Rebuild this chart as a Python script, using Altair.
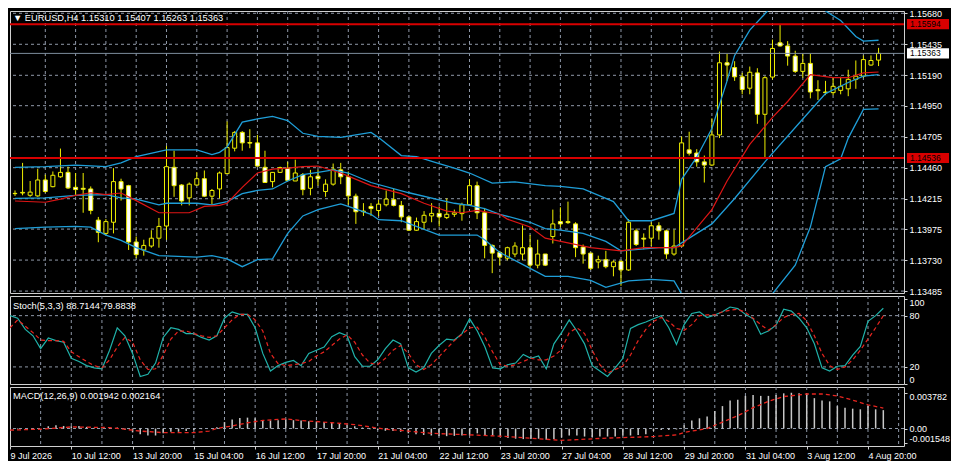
import altair as alt
import pandas as pd

# ---------------- data (EURUSD H4) ----------------
# bar 0 = 9 Jul 2026 04:00, one bar every 4 hours, bar 114 = 5 Aug 2026 04:00
opens = [1.14255, 1.14260, 1.14242, 1.14237, 1.14363, 1.14310, 1.14388, 1.14423, 1.14305, 1.14297,
         1.14292, 1.14046, 1.13941, 1.14029, 1.14350, 1.14318, 1.13873, 1.13810, 1.13841, 1.13903,
         1.13999, 1.14463, 1.14323, 1.14222, 1.14323, 1.14373, 1.14235, 1.14292, 1.14413, 1.14614,
         1.14739, 1.14659, 1.14656, 1.14463, 1.14350, 1.14423, 1.14456, 1.14355, 1.14405, 1.14297,
         1.14393, 1.14272, 1.14330, 1.14443, 1.14388, 1.14235, 1.14117, 1.14154, 1.14122, 1.14167,
         1.14207, 1.14162, 1.14071, 1.13966, 1.14029, 1.14079, 1.14099, 1.14066, 1.14092, 1.14097,
         1.14167, 1.14318, 1.14104, 1.13846, 1.13790, 1.13745, 1.13778, 1.13778, 1.13828, 1.13690,
         1.13778, 1.13916, 1.14034, 1.14034, 1.14016, 1.13833, 1.13785, 1.13715, 1.13733, 1.13678,
         1.13720, 1.13652, 1.13961, 1.13903, 1.13903, 1.14001, 1.13961, 1.13778, 1.13841, 1.14601,
         1.14576, 1.14506, 1.14481, 1.14719, 1.15289, 1.15251, 1.15178, 1.15088, 1.15209, 1.14882,
         1.15176, 1.15447, 1.15422, 1.15342, 1.15221, 1.15284, 1.15076, 1.15058, 1.15053, 1.15071,
         1.15083, 1.15158, 1.15183, 1.15271, 1.15310]
highs = [1.14280, 1.14498, 1.14355, 1.14451, 1.14405, 1.14430, 1.14611, 1.14468, 1.14418, 1.14418,
         1.14312, 1.14071, 1.14054, 1.14456, 1.14373, 1.14325, 1.13916, 1.13891, 1.13966, 1.14063,
         1.14631, 1.14594, 1.14330, 1.14343, 1.14426, 1.14438, 1.14292, 1.14430, 1.14825, 1.14749,
         1.14749, 1.14764, 1.14719, 1.14594, 1.14426, 1.14468, 1.14506, 1.14523, 1.14418, 1.14443,
         1.14443, 1.14368, 1.14493, 1.14498, 1.14430, 1.14255, 1.14180, 1.14180, 1.14205, 1.14280,
         1.14292, 1.14197, 1.14079, 1.14066, 1.14117, 1.14180, 1.14154, 1.14217, 1.14129, 1.14183,
         1.14368, 1.14350, 1.14142, 1.13853, 1.13803, 1.13836, 1.13871, 1.14004, 1.13928, 1.13891,
         1.13778, 1.14129, 1.14147, 1.14192, 1.14029, 1.13853, 1.13790, 1.13765, 1.13803, 1.13728,
         1.13728, 1.14054, 1.13979, 1.13941, 1.14029, 1.14029, 1.13971, 1.13971, 1.14707, 1.14744,
         1.14606, 1.14556, 1.14850, 1.15377, 1.15359, 1.15301, 1.15209, 1.15259, 1.15246, 1.15183,
         1.15472, 1.15593, 1.15460, 1.15384, 1.15359, 1.15359, 1.15151, 1.15146, 1.15171, 1.15178,
         1.15234, 1.15307, 1.15347, 1.15347, 1.15407]
lows = [1.14237, 1.14242, 1.14230, 1.14230, 1.14262, 1.14305, 1.14380, 1.14292, 1.14235, 1.14104,
        1.14092, 1.13871, 1.13928, 1.13941, 1.14200, 1.13810, 1.13745, 1.13765, 1.13828, 1.13828,
        1.13891, 1.14230, 1.14162, 1.14162, 1.14318, 1.14230, 1.14167, 1.14217, 1.14410, 1.14589,
        1.14594, 1.14614, 1.14468, 1.14340, 1.14305, 1.14418, 1.14355, 1.14355, 1.14242, 1.14242,
        1.14318, 1.14230, 1.14318, 1.14330, 1.14167, 1.14016, 1.14079, 1.14079, 1.14079, 1.14154,
        1.14154, 1.14029, 1.13961, 1.13961, 1.13971, 1.14029, 1.13996, 1.14054, 1.14071, 1.14041,
        1.14162, 1.14054, 1.13745, 1.13627, 1.13690, 1.13728, 1.13753, 1.13728, 1.13665, 1.13665,
        1.13683, 1.13861, 1.13991, 1.14016, 1.13753, 1.13702, 1.13652, 1.13665, 1.13665, 1.13602,
        1.13527, 1.13645, 1.13841, 1.13816, 1.13841, 1.13891, 1.13740, 1.13765, 1.13836, 1.14556,
        1.14468, 1.14343, 1.14474, 1.14694, 1.15146, 1.15146, 1.15040, 1.15040, 1.14807, 1.14543,
        1.15158, 1.15417, 1.15266, 1.15209, 1.15171, 1.15008, 1.14995, 1.15033, 1.15033, 1.15040,
        1.15025, 1.15083, 1.15171, 1.15266, 1.15263]
closes = [1.14257, 1.14265, 1.14267, 1.14363, 1.14272, 1.14400, 1.14423, 1.14300, 1.14287, 1.14290,
          1.14122, 1.13949, 1.14034, 1.14350, 1.14292, 1.13873, 1.13773, 1.13846, 1.13903, 1.13996,
          1.14468, 1.14318, 1.14197, 1.14330, 1.14373, 1.14235, 1.14280, 1.14418, 1.14619, 1.14739,
          1.14656, 1.14654, 1.14473, 1.14343, 1.14423, 1.14461, 1.14360, 1.14418, 1.14287, 1.14388,
          1.14373, 1.14330, 1.14448, 1.14388, 1.14237, 1.14112, 1.14112, 1.14137, 1.14172, 1.14212,
          1.14162, 1.14071, 1.13966, 1.14034, 1.14084, 1.14099, 1.14071, 1.14092, 1.14104, 1.14167,
          1.14318, 1.14104, 1.13846, 1.13785, 1.13753, 1.13828, 1.13841, 1.13828, 1.13690, 1.13778,
          1.13690, 1.14016, 1.14016, 1.14026, 1.13828, 1.13778, 1.13665, 1.13733, 1.13678, 1.13715,
          1.13652, 1.14029, 1.13853, 1.13896, 1.14001, 1.13961, 1.13778, 1.13841, 1.14656, 1.14574,
          1.14506, 1.14481, 1.14719, 1.15289, 1.15271, 1.15178, 1.15078, 1.15214, 1.14882, 1.15171,
          1.15402, 1.15422, 1.15342, 1.15221, 1.15284, 1.15058, 1.15068, 1.15053, 1.15103, 1.15103,
          1.15158, 1.15183, 1.15314, 1.15307, 1.15363]

# Bollinger bands and red moving average (bar index, value)
bb_up_idx = [0, 4, 8, 12, 14, 16, 20, 24, 26, 27, 28, 30, 32, 34, 36, 38, 40, 43, 45, 47, 48, 51, 53, 56, 58,
             60, 63, 66, 70, 72, 75, 78, 79, 81, 84, 87, 88, 90, 92, 94, 95, 97, 100, 102, 104, 106, 107,
             109, 111, 112, 114]
bb_up_val = [1.14463, 1.14468, 1.14481, 1.14468, 1.14498, 1.14548, 1.14601, 1.14601, 1.14563, 1.14581,
             1.14624, 1.14820, 1.14845, 1.14865, 1.14832, 1.14732, 1.14707, 1.14699, 1.14719, 1.14739,
             1.14699, 1.14556, 1.14548, 1.14493, 1.14456, 1.14418, 1.14338, 1.14348, 1.14318, 1.14313,
             1.14292, 1.14217, 1.14192, 1.14041, 1.14041, 1.14099, 1.14368, 1.14543, 1.14769, 1.15146,
             1.15347, 1.15547, 1.15740, 1.15820, 1.15830, 1.15770, 1.15698, 1.15623, 1.15497, 1.15460,
             1.15467]
bb_mid_idx = [0, 4, 8, 12, 14, 16, 19, 20, 24, 26, 28, 30, 32, 34, 36, 38, 40, 42, 44, 47, 52, 56, 58, 60,
              62, 64, 68, 70, 72, 75, 78, 80, 85, 87, 88, 92, 95, 99, 104, 107, 110, 112, 114]
bb_mid_val = [1.14217, 1.14222, 1.14242, 1.14247, 1.14222, 1.14212, 1.14167, 1.14179, 1.14179, 1.14167,
              1.14192, 1.14255, 1.14280, 1.14292, 1.14355, 1.14405, 1.14423, 1.14443, 1.14418, 1.14343,
              1.14262, 1.14205, 1.14179, 1.14162, 1.14137, 1.14092, 1.14029, 1.13979, 1.13966, 1.13941,
              1.13878, 1.13803, 1.13828, 1.13828, 1.13866, 1.14016, 1.14217, 1.14506, 1.14845, 1.15045,
              1.15133, 1.15183, 1.15196]
bb_low_idx = [0, 4, 8, 10, 12, 14, 16, 19, 24, 26, 28, 30, 32, 34, 36, 38, 40, 43, 44, 47, 48, 51, 56, 59,
              61, 62, 64, 68, 70, 73, 76, 78, 81, 84, 87, 88, 91, 95, 100, 103, 105, 107, 109, 110, 112, 114]
bb_low_val = [1.13979, 1.13991, 1.13996, 1.13991, 1.13928, 1.13886, 1.13828, 1.13765, 1.13753, 1.13765,
              1.13740, 1.13678, 1.13733, 1.13740, 1.13941, 1.14079, 1.14129, 1.14174, 1.14154, 1.14092,
              1.14049, 1.14041, 1.13928, 1.13928, 1.13928, 1.13891, 1.13790, 1.13665, 1.13602, 1.13602,
              1.13570, 1.13514, 1.13565, 1.13577, 1.13565, 1.13464, 1.13280, 1.13250, 1.13464, 1.13690,
              1.13991, 1.14468, 1.14531, 1.14694, 1.14920, 1.14925]
ma_idx = [0, 4, 6, 8, 10, 12, 14, 16, 19, 23, 25, 27, 28, 30, 32, 34, 36, 38, 40, 43, 44, 47, 51, 54, 57,
          59, 61, 64, 65, 68, 70, 73, 76, 80, 83, 87, 88, 92, 94, 97, 100, 102, 105, 108, 110, 112, 114]
ma_val = [1.14197, 1.14187, 1.14212, 1.14242, 1.14262, 1.14247, 1.14260, 1.14200, 1.14104, 1.14104,
          1.14154, 1.14162, 1.14179, 1.14305, 1.14418, 1.14448, 1.14456, 1.14468, 1.14473, 1.14418,
          1.14393, 1.14318, 1.14255, 1.14179, 1.14117, 1.14104, 1.14122, 1.14092, 1.14054, 1.13991,
          1.13903, 1.13866, 1.13828, 1.13803, 1.13828, 1.13828, 1.13841, 1.14129, 1.14355, 1.14644,
          1.14857, 1.14983, 1.15196, 1.15171, 1.15171, 1.15209, 1.15216]

# Stochastic (5,3,3)
stoch_k = [80.0, 77.0, 63.9, 56.4, 41.4, 53.8, 50.8, 48.9, 30.1, 26.4, 21.5, 18.9, 17.8, 39.5, 65.8, 56.4,
           35.8, 8.8, 11.4, 24.5, 54.5, 65.8, 63.9, 59.0, 59.0, 54.5, 51.5, 56.4, 77.0, 84.5, 81.5, 81.5,
           65.8, 35.8, 15.1, 21.5, 25.3, 27.5, 21.5, 35.8, 39.5, 43.3, 55.3, 60.1, 56.4, 32.0, 20.8, 20.8,
           28.3, 41.4, 51.5, 47.0, 18.9, 14.0, 18.9, 35.8, 45.1, 52.6, 51.5, 59.0, 76.3,
           62.0, 43.3, 18.9, 17.8, 22.6, 24.5, 34.6, 30.1, 32.8, 17.8, 47.0, 60.1, 75.1, 62.0, 47.0, 21.5,
           15.1, 8.8, 18.9, 30.1, 65.0, 69.5, 72.5, 76.3, 80.0, 65.8, 46.3, 69.5, 82.6, 84.5, 77.8, 80.8,
           84.5, 90.1, 88.3, 81.5, 76.3, 58.3, 62.0, 68.8, 87.5, 85.3, 77.0, 65.8, 47.0, 18.9, 15.1, 20.8,
           21.5, 33.9, 44.0, 73.3, 80.0, 88.7144]
stoch_d = [65.8, 75.1, 67.6, 60.1, 51.5, 50.8, 50.8, 50.0, 37.6, 32.0, 26.4, 21.5, 18.9, 28.3, 43.3, 54.5,
           48.9, 28.3, 17.0, 17.8, 33.9, 52.6, 62.0, 62.0, 59.0, 56.4, 54.5, 56.4, 65.8, 75.1, 81.5, 81.5,
           75.1, 62.0, 35.8, 23.8, 21.5, 22.6, 23.8, 26.4, 32.8, 37.6, 45.1, 52.6, 57.5, 48.9, 33.9, 24.5,
           22.6, 30.1, 39.5, 45.1, 35.8, 22.6, 17.0, 22.6, 32.0, 41.4, 50.8, 58.3, 65.8,
           66.5, 54.5, 37.6, 22.6, 20.8, 22.6, 26.4, 30.1, 28.3, 28.3, 32.8, 40.3, 60.1, 65.8, 59.0, 39.5,
           22.6, 12.5, 17.0, 20.8, 33.9, 50.8, 63.9, 73.3, 77.8, 73.3, 65.0, 62.8, 69.5, 80.0, 80.8, 80.8,
           84.5, 86.4, 87.5, 83.8, 77.0, 69.5, 62.8, 69.5, 77.8, 81.5, 82.6, 74.0, 56.4, 35.8, 21.5, 17.0,
           20.0, 28.3, 39.5, 52.6, 65.8, 79.8838]
stoch_levels = [80, 20]
stoch_ticks = [100, 80, 20, 0]

# MACD (12,26,9): histogram (main) and signal
macd_hist = [-0.00010, -0.00007, 0.00000, -0.00003, 0.00000, 0.00024, 0.00034, 0.00027, 0.00024, 0.00027,
             0.00017, 0.00007, 0.00007, 0.00014, 0.00010, -0.00017, -0.00041, -0.00061, -0.00074, -0.00074,
             -0.00051, -0.00034, -0.00034, -0.00027, -0.00017, -0.00007, 0.00000, 0.00014, 0.00068, 0.00095,
             0.00112, 0.00115, 0.00108, 0.00088, 0.00085, 0.00088, 0.00095, 0.00088, 0.00085, 0.00078,
             0.00074, 0.00068, 0.00061, 0.00057, 0.00034, 0.00024, 0.00010, -0.00007, -0.00017, -0.00024,
             -0.00027, -0.00034, -0.00051, -0.00061, -0.00068, -0.00074, -0.00078, -0.00081, -0.00078, -0.00074,
             -0.00074,
             -0.00051, -0.00068, -0.00074, -0.00085, -0.00101, -0.00108, -0.00112, -0.00112, -0.00108, -0.00118,
             -0.00112, -0.00095, -0.00074, -0.00074, -0.00085, -0.00091, -0.00085, -0.00085, -0.00085, -0.00074,
             -0.00074, -0.00068, -0.00061, -0.00027, -0.00017, -0.00017, -0.00010, 0.00034, 0.00085, 0.00108,
             0.00128, 0.00186, 0.00237, 0.00297, 0.00304, 0.00345, 0.00355, 0.00345, 0.00345, 0.00355,
             0.00372, 0.00378, 0.00372, 0.00372, 0.00321, 0.00297, 0.00287, 0.00237, 0.00220, 0.00210,
             0.00203, 0.00237, 0.00203, 0.001942]
sig_idx = [0, 4, 8, 13, 17, 20, 24, 26, 27, 29, 31, 33, 36, 38, 40, 42, 45, 47, 49, 52, 55, 61, 65, 69, 72,
           74, 78, 82, 84, 87, 88, 91, 93, 95, 97, 99, 101, 104, 106, 108, 110, 112, 114]
sig_val = [-0.00017, -0.00007, 0.00017, 0.00010, -0.00027, -0.00044, -0.00044, -0.00027, 0.00000, 0.00027,
           0.00061, 0.00085, 0.00101, 0.00085, 0.00074, 0.00061, 0.00041, 0.00017, -0.00007, -0.00027,
           -0.00051, -0.00070, -0.00085, -0.00108, -0.00125, -0.00118, -0.00101, -0.00091, -0.00085, -0.00068,
           -0.00041, 0.00000, 0.00068, 0.00135, 0.00220, 0.00287, 0.00338, 0.00365, 0.00365, 0.00345,
           0.00300, 0.00250, 0.002164]
macd_ticks = [0.003782, 0.0, -0.001548]
macd_tick_text = ["0.003782", "0.00", "-0.001548"]

# axis texts
time_labels = ["9 Jul 2026", "10 Jul 12:00", "13 Jul 20:00", "15 Jul 04:00", "16 Jul 12:00",
               "17 Jul 20:00", "21 Jul 04:00", "22 Jul 12:00", "23 Jul 20:00", "27 Jul 04:00",
               "28 Jul 12:00", "29 Jul 20:00", "31 Jul 04:00", "3 Aug 12:00", "4 Aug 20:00"]
label_step = 8
grid_step = 4
price_ticks = [1.15680, 1.15435, 1.15190, 1.14950, 1.14705, 1.14460, 1.14215, 1.13975, 1.13730, 1.13485]
red_levels = [1.15594, 1.14536]
bid_price = 1.15363
symbol = "EURUSD,H4"

# ---------------- layout / style ----------------
W = 894
H_MAIN, H_STO, H_MACD = 282, 88, 59
X_MAX = 116.7
P_RANGE = [1.13470, 1.15698]
STO_RANGE = [0, 103]
MACD_RANGE = [-0.00185, 0.00439]

FONT = "Liberation Sans"
FS = 9
FS_TAG = 8.5
FS_HEAD = 9.3
YEL = "#eeee00"
BLUE = "#1f9ed8"
MA_RED = "#dd1515"
LEVEL_RED = "#d80000"
GRID = "#8f98a8"
AXC = "#d0d0d0"
BID = "#7d8c9c"
TEAL = "#20b2aa"
DASH_RED = "#e8251f"
HIST = "#c8c8c8"

n = len(opens)
xscale = alt.Scale(domain=[0, X_MAX], nice=False, zero=False)


def right_axis(values, flush, **kw):
    return alt.Axis(orient="right", values=values, domain=False, grid=False, ticks=True,
                    tickSize=3, tickColor=AXC, tickWidth=1, labelColor="white", labelFont=FONT,
                    labelFontSize=FS, labelPadding=2, labelFlush=flush, labelOverlap=False,
                    title=None, **kw)


label_expr = "[" + ",".join(f"'{t}'" for t in time_labels) + f"][round(datum.value / {label_step})]"
x_axis_bottom = alt.Axis(orient="bottom", values=[k * label_step for k in range(len(time_labels))],
                         labelExpr=label_expr, labelAlign="left", labelBaseline="top",
                         labelColor="white", labelFont=FONT, labelFontSize=FS, labelPadding=2,
                         labelFlush=False, labelOverlap=False, tickSize=3, tickColor=AXC,
                         domain=False, grid=False, title=None)
macd_label_expr = "".join(
    f"abs(datum.value - ({v})) < 0.0000001 ? '{t}' : " for v, t in zip(macd_ticks, macd_tick_text)) + "''"

AX_MAIN = right_axis(price_ticks, False, format=".5f")
AX_STO = right_axis(stoch_ticks, 4, format="d")
AX_MACD = right_axis(macd_ticks, 7, labelExpr=macd_label_expr)


def xenc(field="i", axis=None):
    return alt.X(f"{field}:Q", scale=xscale, axis=axis)


def yenc(field, dom, axis):
    return alt.Y(f"{field}:Q", scale=alt.Scale(domain=dom, nice=False, zero=False), axis=axis)


grid_df = pd.DataFrame({"i": list(range(grid_step, int(X_MAX) + 1, grid_step))})


def vgrid(xaxis=None):
    return alt.Chart(grid_df).mark_rule(color=GRID, strokeWidth=1, strokeDash=[3, 3]).encode(
        x=xenc("i", xaxis))


def series_line(idx, vals, dom, yaxis, color, width=1.3, dash=None, xaxis=None):
    kw = dict(color=color, strokeWidth=width, clip=True)
    if dash:
        kw["strokeDash"] = dash
    return alt.Chart(pd.DataFrame({"i": idx, "v": vals})).mark_line(**kw).encode(
        x=xenc("i", xaxis), y=yenc("v", dom, yaxis))


def header(text, y):
    return alt.Chart(pd.DataFrame({"t": [text]})).mark_text(
        align="left", baseline="middle", color="white", font=FONT, fontSize=FS_HEAD
    ).encode(x=alt.value(3), y=alt.value(y), text="t:N")


# ---------------- main price panel ----------------
cdf = pd.DataFrame({"i": range(n), "o": opens, "h": highs, "l": lows, "c": closes})
cdf["top"] = cdf[["o", "c"]].max(axis=1)
cdf["bot"] = cdf[["o", "c"]].min(axis=1)

hgrid_main = alt.Chart(pd.DataFrame({"p": price_ticks})).mark_rule(
    color=GRID, strokeWidth=1, strokeDash=[3, 3], clip=True
).encode(y=yenc("p", P_RANGE, AX_MAIN))

wicks = alt.Chart(cdf).mark_rule(color=YEL, strokeWidth=1, clip=True).encode(
    x=xenc(), y=yenc("l", P_RANGE, AX_MAIN), y2="h:Q")
bodies = alt.Chart(cdf).mark_bar(size=4, stroke=YEL, strokeWidth=1, clip=True).encode(
    x=xenc(), y=yenc("bot", P_RANGE, AX_MAIN), y2="top:Q",
    fill=alt.condition("datum.c > datum.o", alt.value("#000000"), alt.value("#ffffff")))

levels = alt.Chart(pd.DataFrame({"p": red_levels})).mark_rule(color=LEVEL_RED, strokeWidth=2).encode(
    y=yenc("p", P_RANGE, AX_MAIN))
bidline = alt.Chart(pd.DataFrame({"p": [bid_price]})).mark_rule(color=BID, strokeWidth=1).encode(
    y=yenc("p", P_RANGE, AX_MAIN))

tags = pd.DataFrame({
    "p": [red_levels[0], bid_price, red_levels[1]],
    "bg": [LEVEL_RED, "#ffffff", LEVEL_RED],
})
tags["t"] = tags["p"].map(lambda v: f"{v:.5f}")
tag_box = alt.Chart(tags).mark_point(
    shape="M-1,-0.24L1,-0.24L1,0.24L-1,0.24Z", size=42 * 42, filled=True, opacity=1, strokeWidth=0
).encode(x=alt.value(W + 24), y=yenc("p", P_RANGE, AX_MAIN), fill=alt.Color("bg:N", scale=None))
tag_text = alt.Chart(tags).mark_text(
    align="left", baseline="middle", font=FONT, fontSize=FS_TAG, color="#000000"
).encode(x=alt.value(W + 6), y=yenc("p", P_RANGE, AX_MAIN), text="t:N")

main_title = f"\u25bc {symbol} {opens[-1]:.5f} {highs[-1]:.5f} {lows[-1]:.5f} {closes[-1]:.5f}"

main = alt.layer(
    vgrid(), hgrid_main, wicks, bodies,
    series_line(bb_up_idx, bb_up_val, P_RANGE, AX_MAIN, BLUE),
    series_line(bb_mid_idx, bb_mid_val, P_RANGE, AX_MAIN, BLUE),
    series_line(bb_low_idx, bb_low_val, P_RANGE, AX_MAIN, BLUE),
    series_line(ma_idx, ma_val, P_RANGE, AX_MAIN, MA_RED, 1.2),
    levels, bidline, tag_box, tag_text,
    header(main_title, 7),
).properties(width=W, height=H_MAIN)

# ---------------- stochastic panel ----------------
hgrid_sto = alt.Chart(pd.DataFrame({"s": stoch_levels})).mark_rule(
    color=GRID, strokeWidth=1, strokeDash=[3, 3]
).encode(y=yenc("s", STO_RANGE, AX_STO))

sto = alt.layer(
    vgrid(), hgrid_sto,
    series_line(list(range(n)), stoch_k, STO_RANGE, AX_STO, TEAL, 1.2),
    series_line(list(range(n)), stoch_d, STO_RANGE, AX_STO, DASH_RED, 1.2, [4, 3]),
    header(f"Stoch(5,3,3) {stoch_k[-1]:.4f} {stoch_d[-1]:.4f}", 10),
).properties(width=W, height=H_STO)

# ---------------- MACD panel ----------------
mdf = pd.DataFrame({"i": range(n), "h": macd_hist, "z": 0.0})
zero_rule = alt.Chart(pd.DataFrame({"m": [0.0]})).mark_rule(
    color=GRID, strokeWidth=1, strokeDash=[3, 3]
).encode(y=yenc("m", MACD_RANGE, AX_MACD))
hist = alt.Chart(mdf).mark_rule(color=HIST, strokeWidth=1.5, clip=True).encode(
    x=xenc("i", x_axis_bottom), y=yenc("h", MACD_RANGE, AX_MACD), y2="z:Q")

macd = alt.layer(
    vgrid(x_axis_bottom), zero_rule, hist,
    series_line(sig_idx, sig_val, MACD_RANGE, AX_MACD, DASH_RED, 1.3, [4, 3], x_axis_bottom),
    header(f"MACD(12,26,9) {macd_hist[-1]:.6f} {sig_val[-1]:.6f}", 9),
).properties(width=W, height=H_MACD)

chart = alt.vconcat(main, sto, macd, spacing=3, bounds="flush").properties(
    padding=0, background="#000000"
).configure_view(stroke=AXC, strokeWidth=1)

chart.save("out.html", embed_options={"renderer": "svg", "actions": False})
